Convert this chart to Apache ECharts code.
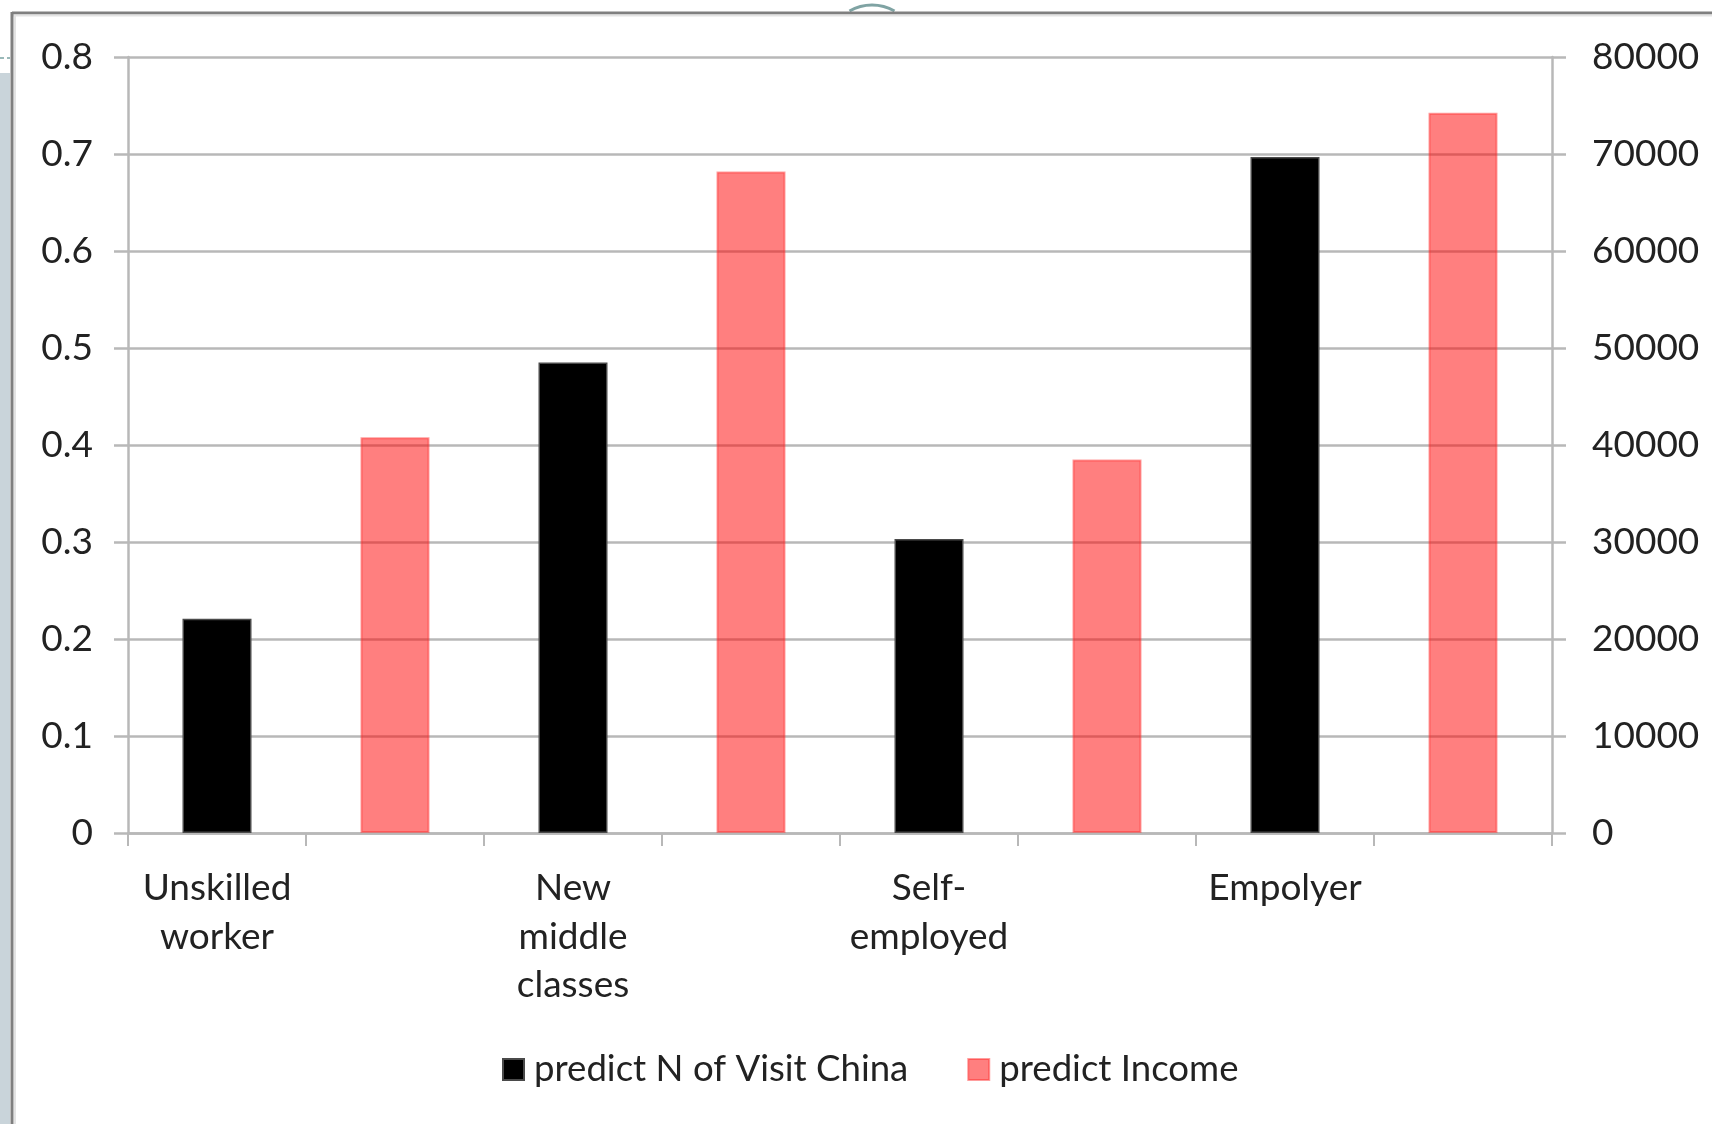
<!DOCTYPE html>
<html>
<head>
<meta charset="utf-8">
<script src="https://cdn.jsdelivr.net/npm/echarts@6/dist/echarts.min.js"></script>
<style>
html,body{margin:0;padding:0;background:#fff;}
#chart{width:1712px;height:1124px;}
</style>
</head>
<body>
<div id="chart"></div>
<script>
// Data
const categories = ['Unskilled\nworker', 'New\nmiddle\nclasses', 'Self-\nemployed', 'Empolyer'];
const visitChina = [0.221, 0.485, 0.303, 0.697];
const income = [40800, 68200, 38500, 74250];
const leftTicks = { min: 0, max: 0.8, interval: 0.1 };
const rightTicks = { min: 0, max: 80000, interval: 10000 };
const seriesNames = ['predict N of Visit China', 'predict Income'];

// Each category occupies two slots: black bar then red bar
const slots = [];
const visitSlots = [];
const incomeSlots = [];
categories.forEach((c, i) => {
  slots.push(c);
  slots.push(c + ' (income)');
  visitSlots.push(visitChina[i], null);
  incomeSlots.push(null, income[i]);
});

const FONT = 'Lato';
const TXT = '#222222';
const GRID = '#b8b8b8';

const chart = echarts.init(document.getElementById('chart'), null, { renderer: 'canvas' });
chart.setOption({
  backgroundColor: '#ffffff',
  animation: false,
  textStyle: { fontFamily: FONT },
  grid: { left: 128, right: 160, top: 57, bottom: 291, containLabel: false },
  legend: {
    data: seriesNames,
    left: 497,
    top: 1046,
    itemWidth: 21,
    itemHeight: 21,
    itemGap: 59,
    icon: 'rect',
    textStyle: { fontFamily: FONT, fontSize: 36.6, color: TXT, padding: [0, 0, 0, 5] }
  },
  xAxis: {
    type: 'category',
    data: slots,
    boundaryGap: true,
    axisLine: { show: true, lineStyle: { color: GRID, width: 2.5 } },
    axisTick: { show: true, interval: 0, length: 13, lineStyle: { color: GRID, width: 2 } },
    axisLabel: {
      interval: 0,
      margin: 31,
      fontFamily: FONT,
      fontSize: 37,
      lineHeight: 48.5,
      color: TXT,
      formatter: (v, idx) => (idx % 2 === 0 ? categories[idx / 2] : '')
    },
    splitLine: { show: false }
  },
  yAxis: [
    {
      type: 'value',
      position: 'left',
      min: leftTicks.min, max: leftTicks.max, interval: leftTicks.interval,
      axisLine: { show: true, lineStyle: { color: GRID, width: 2.5 } },
      axisTick: { show: true, length: 14, lineStyle: { color: GRID, width: 2.5 } },
      axisLabel: {
        margin: 35, fontFamily: FONT, fontSize: 37, color: TXT,
        formatter: v => String(+v.toFixed(1))
      },
      splitLine: { show: true, lineStyle: { color: GRID, width: 2.5 } }
    },
    {
      type: 'value',
      position: 'right',
      min: rightTicks.min, max: rightTicks.max, interval: rightTicks.interval,
      axisLine: { show: true, lineStyle: { color: GRID, width: 2.5 } },
      axisTick: { show: true, length: 14, lineStyle: { color: GRID, width: 2.5 } },
      axisLabel: {
        margin: 40, fontFamily: FONT, fontSize: 37, color: TXT,
        formatter: v => String(Math.round(v))
      },
      splitLine: { show: false }
    }
  ],
  series: [
    {
      name: seriesNames[0],
      type: 'bar',
      yAxisIndex: 0,
      data: visitSlots,
      barWidth: 69,
      barGap: '-100%',
      itemStyle: { color: '#000000', borderColor: '#4a4a4a', borderWidth: 1.5 }
    },
    {
      name: seriesNames[1],
      type: 'bar',
      yAxisIndex: 1,
      data: incomeSlots,
      barWidth: 69,
      barGap: '-100%',
      itemStyle: { color: 'rgba(255,0,0,0.5)', borderColor: 'rgba(255,40,40,0.45)', borderWidth: 2 }
    }
  ],
  graphic: [
    { type: 'rect', silent: true, shape: { x: 0, y: 73, width: 10, height: 1051 }, style: { fill: '#c9d4da' }, z: 100 },
    { type: 'line', silent: true, shape: { x1: 0, y1: 58, x2: 10, y2: 58 }, style: { stroke: '#7aa3a3', lineWidth: 1.5, lineDash: [4, 3] }, z: 100 },
    { type: 'arc', silent: true, shape: { cx: 872, cy: 50, r: 45, startAngle: -Math.PI * 2 / 3, endAngle: -Math.PI / 3, clockwise: true }, style: { stroke: '#7fa3a3', lineWidth: 3, fill: null }, z: 100 },
    { type: 'line', silent: true, shape: { x1: 12, y1: 13, x2: 1712, y2: 13 }, style: { stroke: '#7f7f7f', lineWidth: 3 }, z: 101 },
    { type: 'line', silent: true, shape: { x1: 13, y1: 15.5, x2: 1712, y2: 15.5 }, style: { stroke: '#e3e3e3', lineWidth: 2 }, z: 101 },
    { type: 'line', silent: true, shape: { x1: 12, y1: 12, x2: 12, y2: 1124 }, style: { stroke: '#7f7f7f', lineWidth: 3 }, z: 101 },
    { type: 'line', silent: true, shape: { x1: 15, y1: 15, x2: 15, y2: 1124 }, style: { stroke: '#e3e3e3', lineWidth: 2 }, z: 101 }
  ]
});
</script>
</body>
</html>
